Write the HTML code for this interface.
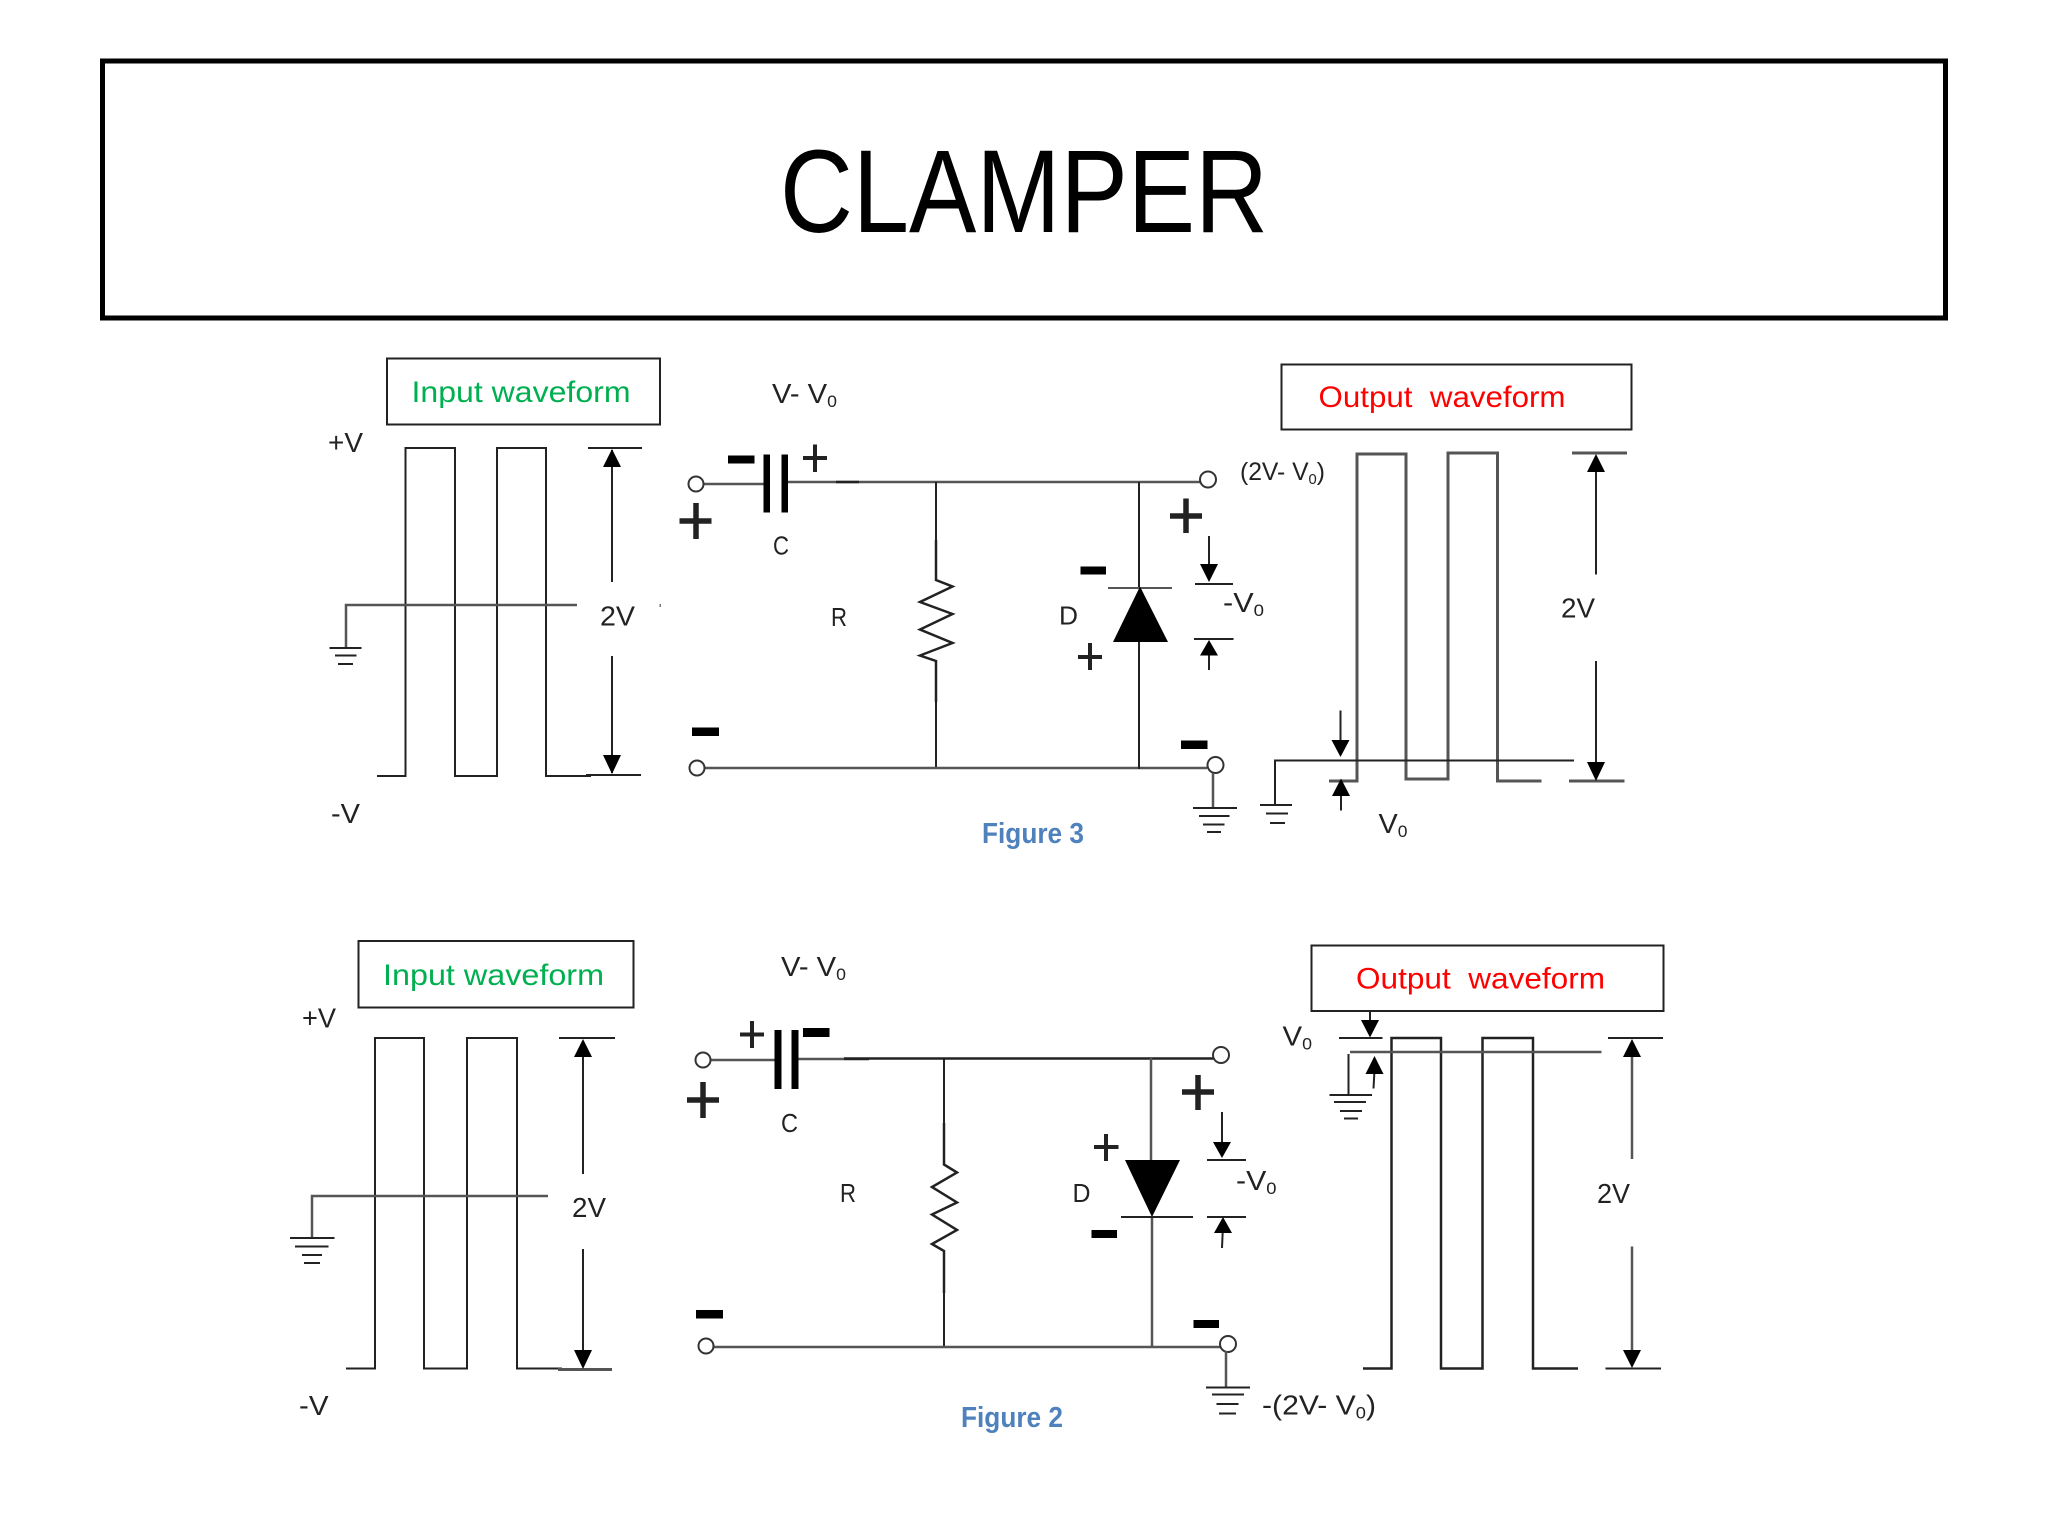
<!DOCTYPE html>
<html><head><meta charset="utf-8"><title>Clamper</title>
<style>
html,body{margin:0;padding:0;background:#fff}
svg{display:block}
text{font-family:"Liberation Sans",sans-serif;fill:#222;font-size:28px}
.l{fill:none;stroke:#222;stroke-width:2}
.g{fill:none;stroke:#555;stroke-width:3}
.t{fill:none;stroke:#222;stroke-width:3.5}
.h{fill:#000;stroke:none}
.c{fill:#fff;stroke:#333;stroke-width:2}
.b{fill:none;stroke:#222;stroke-width:2.5}
.f{font-weight:bold;fill:#4f81bd;font-size:29px}
.s{font-size:17px}
.m{font-size:26px}
</style></head><body>
<svg xmlns="http://www.w3.org/2000/svg" width="2048" height="1536" viewBox="0 0 2048 1536">
<rect width="2048" height="1536" fill="#fff"/>
<rect x="102.500" y="61" width="1843" height="257" fill="none" stroke="#000" stroke-width="5"/>
<text x="780" y="232" style="font-size:118px;fill:#000" textLength="488" lengthAdjust="spacingAndGlyphs">CLAMPER</text>

<!-- FIGURE 3 -->
<rect x="387" y="358.500" width="273" height="66" fill="none" stroke="#222" stroke-width="2"/>
<text x="411.500" y="402" style="font-size:30px;fill:#00b050" textLength="219" lengthAdjust="spacingAndGlyphs">Input waveform</text>
<text x="328" y="452" textLength="35" lengthAdjust="spacingAndGlyphs">+V</text>
<text x="331" y="823" textLength="29" lengthAdjust="spacingAndGlyphs">-V</text>
<path class="l" d="M377 776H405.500V448H455V776H497V448H546V776H591"/>
<path class="g" d="M346 647V605H577" style="stroke-width:2.500"/>
<path class="l" d="M329.500 648H361.500M335 655.500H356.500M338 664H353"/>
<path class="l" d="M588 448H642M586 775H641M612 450V582M612 656V773"/>
<polygon class="h" points="612,449 603,467 621,467"/><polygon class="h" points="612,774 603,755 621,755"/>
<rect x="659.500" y="604" width="1.500" height="3" fill="#777"/>
<text x="600" y="625.500" textLength="35" lengthAdjust="spacingAndGlyphs">2V</text>
<text x="772" y="403" textLength="65" lengthAdjust="spacingAndGlyphs">V- V<tspan class="s" dy="4">0</tspan></text>
<path class="g" d="M703 484H765M788 482H1200" style="stroke-width:2.500"/>
<path class="t" d="M836 482H859" style="stroke-width:2.500"/>
<rect x="763.500" y="454.500" width="6.500" height="58" fill="#000"/><rect x="781.500" y="454.500" width="6.500" height="58" fill="#000"/>
<circle class="c" cx="696" cy="484" r="7.500"/>
<rect x="728" y="455.500" width="26.500" height="8" fill="#000"/>
<path class="t" d="M803 458H827M815 444.500V472" style="stroke-width:4"/>
<path class="t" d="M679.500 521H711.500M696 503V539" style="stroke-width:5.500"/>
<text x="773" y="554.500" class="m" textLength="16" lengthAdjust="spacingAndGlyphs">C</text>
<text x="831" y="626" class="m" textLength="16" lengthAdjust="spacingAndGlyphs">R</text>
<path class="l" d="M936 482V540"/>
<path class="b" d="M936 540V580L952.500 586.500L920 602L952.500 614L920 629.500L952.500 643L920 655.500L936 661V702"/>
<path class="l" d="M936 702V769"/>
<path class="g" d="M705 768H1207" style="stroke-width:2.500"/>
<circle class="c" cx="697" cy="768" r="7.500"/>
<rect x="692" y="727.500" width="27" height="8.500" fill="#000"/>
<text x="982" y="843" class="f" textLength="102" lengthAdjust="spacingAndGlyphs">Figure 3</text>
<path class="l" d="M1139 482V588M1139 642V769"/>
<circle class="c" cx="1208" cy="479.500" r="8"/>
<path class="g" d="M1108 588H1172" style="stroke-width:2"/>
<polygon class="h" points="1140,586.500 1113,642 1168,642"/>
<rect x="1080.500" y="566.500" width="25.500" height="8" fill="#000"/>
<text x="1059" y="624.500" class="m" textLength="19" lengthAdjust="spacingAndGlyphs">D</text>
<path class="t" d="M1078 657H1102M1090 643V670" style="stroke-width:4"/>
<path class="t" d="M1170 516H1202M1186 498.500V533" style="stroke-width:5.500"/>
<path class="l" d="M1209 536V575M1195 584H1233M1194 639H1233.500M1209 650V670"/>
<polygon class="h" points="1209,582 1200,564 1218,564"/><polygon class="h" points="1209,640 1200,655.500 1218,655.500"/>
<text x="1223" y="612" textLength="41" lengthAdjust="spacingAndGlyphs">-V<tspan class="s" dy="4">0</tspan></text>
<rect x="1181" y="740.500" width="26.500" height="8.500" fill="#000"/>
<circle class="c" cx="1215.500" cy="765" r="8"/>
<path class="g" d="M1213 773V808" style="stroke-width:2.500"/>
<path class="l" d="M1193 808H1237M1199 816H1229.500M1203 824.500H1224.500M1207 832H1221"/>
<text x="1240" y="480" style="font-size:25px" textLength="85" lengthAdjust="spacingAndGlyphs">(2V- V<tspan style="font-size:15px" dy="4">0</tspan><tspan dy="-4">)</tspan></text>
<rect x="1281.500" y="364.500" width="350" height="65" fill="none" stroke="#222" stroke-width="2"/>
<text x="1318.500" y="407" style="font-size:30px;fill:#f00" textLength="247" lengthAdjust="spacingAndGlyphs">Output&#160;&#160;waveform</text>
<path class="g" d="M1329 781H1357V454H1406V779H1448V453H1497.500V781H1541.500"/>
<path class="l" d="M1275 805V760.500H1574"/>
<path class="l" d="M1260 805H1292M1266 813.500H1288M1270 823H1285"/>
<path class="l" d="M1340.500 710.500V745M1341 790V810.500"/>
<polygon class="h" points="1340.500,757 1331.500,740 1349.500,740"/><polygon class="h" points="1341,778.500 1332,796 1350,796"/>
<text x="1378.500" y="833" textLength="29" lengthAdjust="spacingAndGlyphs">V<tspan class="s" dy="4">0</tspan></text>
<path class="g" d="M1572 453H1627M1569 781H1624.500"/>
<path class="l" d="M1596 460V574.500M1596 661V770"/>
<polygon class="h" points="1596,454 1587,472 1605,472"/><polygon class="h" points="1596,781 1587,762 1605,762"/>
<text x="1561" y="617.500" textLength="34" lengthAdjust="spacingAndGlyphs">2V</text>

<!-- FIGURE 2 -->
<rect x="358.500" y="941" width="275" height="66.500" fill="none" stroke="#222" stroke-width="2"/>
<text x="383" y="985" style="font-size:30px;fill:#00b050" textLength="221" lengthAdjust="spacingAndGlyphs">Input waveform</text>
<text x="302" y="1027.500" textLength="34" lengthAdjust="spacingAndGlyphs">+V</text>
<text x="299" y="1415" textLength="29.500" lengthAdjust="spacingAndGlyphs">-V</text>
<path class="l" d="M346 1368.500H375V1038H424V1368.500H467V1038H517V1368.500H562"/>
<path class="g" d="M312 1237V1196H548" style="stroke-width:2.500"/>
<path class="l" d="M290 1238H334.500M295 1246.500H328.500M302 1255H322M304 1263H320"/>
<path class="l" d="M559 1038H615M583 1045V1174M583 1249V1360"/>
<path class="g" d="M558 1369.500H612"/>
<polygon class="h" points="583,1039 574,1057 592,1057"/><polygon class="h" points="583,1369 574,1350 592,1350"/>
<text x="572" y="1217" textLength="34" lengthAdjust="spacingAndGlyphs">2V</text>
<text x="781" y="976" textLength="65" lengthAdjust="spacingAndGlyphs">V- V<tspan class="s" dy="4">0</tspan></text>
<path class="g" d="M710 1060H775M798 1059H844" style="stroke-width:2.500"/>
<path class="l" d="M844 1058.500H1214" style="stroke-width:2.500"/>
<path class="t" d="M844 1059H869" style="stroke-width:2.500"/>
<rect x="774.500" y="1030" width="7" height="59" fill="#000"/><rect x="791.500" y="1030" width="7" height="59" fill="#000"/>
<circle class="c" cx="703" cy="1060" r="7.500"/>
<path class="t" d="M740 1034.500H764M752 1021V1048" style="stroke-width:4"/>
<rect x="803" y="1028" width="26.500" height="9" fill="#000"/>
<path class="t" d="M687 1100H719M703 1082V1118" style="stroke-width:5.500"/>
<text x="781" y="1132" class="m" textLength="17" lengthAdjust="spacingAndGlyphs">C</text>
<text x="840" y="1202" class="m" textLength="16" lengthAdjust="spacingAndGlyphs">R</text>
<path class="l" d="M944 1058V1123"/>
<path class="b" d="M944 1123V1164.500L957 1172.500L932 1187L957 1202.500L932 1214.500L957 1230L932 1244L944 1251V1293"/>
<path class="l" d="M944 1293V1347"/>
<path class="g" d="M714 1347H1220" style="stroke-width:2.500"/>
<circle class="c" cx="706" cy="1346" r="7.500"/>
<rect x="696" y="1310" width="27" height="8.500" fill="#000"/>
<text x="961" y="1427" class="f" textLength="102" lengthAdjust="spacingAndGlyphs">Figure 2</text>
<path class="g" d="M1151 1058V1160M1152 1217V1347" style="stroke-width:2.500"/>
<circle class="c" cx="1221" cy="1055" r="8"/>
<polygon class="h" points="1125,1160 1180,1160 1152,1217"/>
<path class="l" d="M1121 1217H1193"/>
<path class="t" d="M1094 1147H1118.500M1106 1134V1161" style="stroke-width:4"/>
<rect x="1091.500" y="1230" width="25.500" height="8" fill="#000"/>
<text x="1072.500" y="1202" class="m" textLength="18" lengthAdjust="spacingAndGlyphs">D</text>
<path class="t" d="M1182 1092H1214M1198 1075V1110" style="stroke-width:5.500"/>
<path class="l" d="M1222 1112V1150M1207 1160H1246M1207 1217H1246M1223 1225L1222 1248"/>
<polygon class="h" points="1222,1158 1213,1142 1231,1142"/><polygon class="h" points="1223,1217 1214,1233 1232,1233"/>
<text x="1236" y="1190" textLength="40.500" lengthAdjust="spacingAndGlyphs">-V<tspan class="s" dy="4">0</tspan></text>
<rect x="1193.500" y="1320" width="25.500" height="8" fill="#000"/>
<circle class="c" cx="1228" cy="1344" r="8"/>
<path class="g" d="M1226 1351V1387.500" style="stroke-width:2.500"/>
<path class="l" d="M1206 1387.500H1250M1212 1394.500H1244M1216.500 1404H1238.500M1219 1413.500H1236"/>
<text x="1262" y="1414.500" style="font-size:28px" textLength="114" lengthAdjust="spacingAndGlyphs">-(2V- V<tspan class="s" dy="4">0</tspan><tspan dy="-4">)</tspan></text>
<rect x="1311.500" y="945.500" width="352" height="65.500" fill="none" stroke="#222" stroke-width="2"/>
<text x="1356" y="988.500" style="font-size:30px;fill:#f00" textLength="249" lengthAdjust="spacingAndGlyphs">Output&#160;&#160;waveform</text>
<path class="l" d="M1363 1368.500H1391.500V1038H1441V1368.500H1482.500V1038H1533V1368.500H1578" style="stroke-width:2.500"/>
<path class="g" d="M1350 1052H1601.500" style="stroke-width:2.500"/>
<path class="l" d="M1348.500 1054V1095M1329.500 1095H1372M1334 1102H1366M1340 1111H1362M1344 1118.500H1358"/>
<path class="l" d="M1339 1038H1382.500M1370 1012V1025M1374.500 1070L1373.500 1088.500"/>
<polygon class="h" points="1370,1037.500 1361,1020 1379,1020"/><polygon class="h" points="1374.500,1056 1365.500,1074 1383.500,1074"/>
<text x="1282.500" y="1045.500" textLength="29.500" lengthAdjust="spacingAndGlyphs">V<tspan class="s" dy="4">0</tspan></text>
<path class="l" d="M1608 1038H1663M1605.500 1368.500H1661"/>
<path class="g" d="M1632 1050V1159M1632 1246.500V1358" style="stroke-width:2.500"/>
<polygon class="h" points="1632,1039 1623,1057 1641,1057"/><polygon class="h" points="1632,1368 1623,1350 1641,1350"/>
<text x="1597" y="1203" textLength="33" lengthAdjust="spacingAndGlyphs">2V</text>
</svg>
</body></html>
